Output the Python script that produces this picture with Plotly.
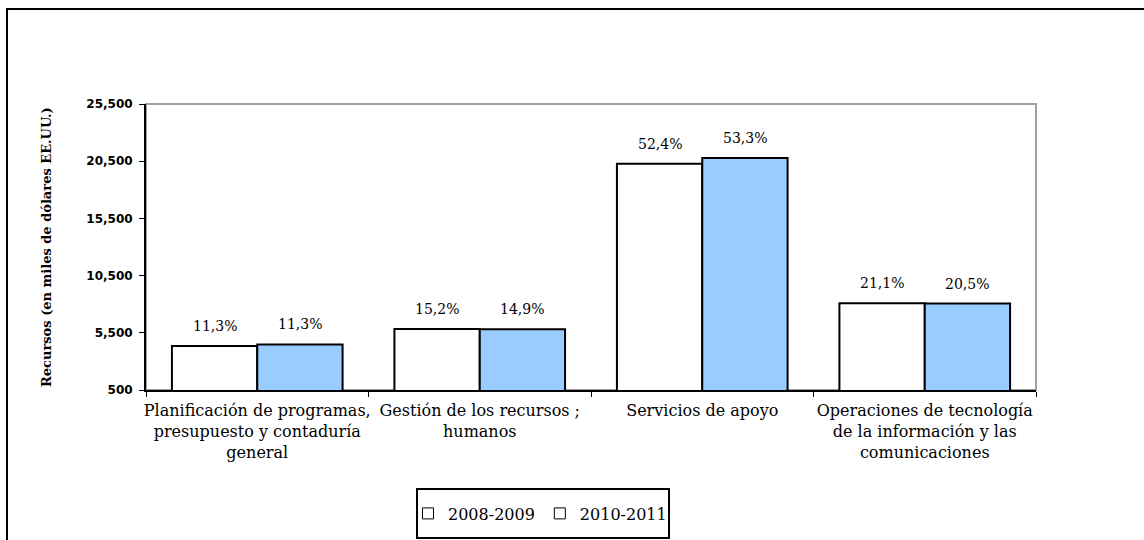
import plotly.graph_objects as go

categories = [
    "Planificación de programas,<br>presupuesto y contaduría<br>general",
    "Gestión de los recursos ;<br>humanos",
    "Servicios de apoyo",
    "Operaciones de tecnología<br>de la información y las<br>comunicaciones",
]
series_names = ["2008-2009", "2010-2011"]
values_2008_2009 = [4350, 5840, 20270, 8080]
values_2010_2011 = [4480, 5810, 20770, 8060]
labels_2008_2009 = ["11,3%", "15,2%", "52,4%", "21,1%"]
labels_2010_2011 = ["11,3%", "14,9%", "53,3%", "20,5%"]
y_ticks = [500, 5500, 10500, 15500, 20500, 25500]
y_title = "Recursos (en miles de dólares EE.UU.)"

W, H = 1144, 540
ML, MR, MT, MB = 146, 108, 104, 150
BARGAP = 0.233

serif = "DejaVu Serif"
colors = ["#FFFFFF", "#99CCFF"]

plot_w = W - ML - MR
plot_h = H - MT - MB


def px_x(px):
    return (px - ML) / plot_w


def px_y(py):
    return ((H - MB) - py) / plot_h


fig = go.Figure()
for name, vals, col in [
    (series_names[0], values_2008_2009, colors[0]),
    (series_names[1], values_2010_2011, colors[1]),
]:
    fig.add_trace(go.Bar(
        x=categories, y=vals, name=name, showlegend=False,
        marker=dict(color=col, line=dict(color="#000000", width=2)),
        hoverinfo="skip",
    ))

# legend entries (hollow squares as in the original)
for name in series_names:
    fig.add_trace(go.Scatter(
        x=[None], y=[None], mode="markers", name=name,
        marker=dict(symbol="square-open", size=11, color="#000000",
                    line=dict(width=1)),
    ))

# data labels above bars
cat_w = plot_w / len(categories)
bar_w = cat_w * (1 - BARGAP) / 2
for labels, sign, vals in [
    (labels_2008_2009, -1, values_2008_2009),
    (labels_2010_2011, 1, values_2010_2011),
]:
    for c, v, t in zip(categories, vals, labels):
        fig.add_annotation(
            x=c, y=v, xref="x", yref="y", text=t, showarrow=False,
            xshift=sign * bar_w / 2, yshift=20,
            font=dict(family=serif, size=14, color="#000000"),
        )

# y-axis title
fig.add_annotation(
    x=px_x(46), y=0.5, xref="paper", yref="paper", text="<b>" + y_title + "</b>",
    textangle=-90, showarrow=False, xanchor="center", yanchor="middle",
    font=dict(family=serif, size=13, color="#000000"),
)

# plot-area border (gray top/right)
fig.add_shape(type="rect", xref="paper", yref="paper", x0=0, x1=1, y0=0, y1=1,
              line=dict(color="#A0A0A0", width=2), layer="below")
# outer frame
fig.add_shape(type="rect", xref="paper", yref="paper",
              x0=px_x(7), x1=px_x(W + 10), y0=px_y(H + 10), y1=px_y(9),
              line=dict(color="#000000", width=2), layer="below")
# legend box
fig.add_shape(type="rect", xref="paper", yref="paper",
              x0=px_x(417), x1=px_x(669), y0=px_y(538), y1=px_y(489),
              line=dict(color="#000000", width=2), fillcolor="#FFFFFF",
              layer="below")

fig.update_layout(
    template="none",
    width=W, height=H,
    margin=dict(l=ML, r=MR, t=MT, b=MB, autoexpand=False),
    paper_bgcolor="#FFFFFF", plot_bgcolor="#FFFFFF",
    barmode="group", bargap=BARGAP, bargroupgap=0,
    font=dict(family=serif, color="#000000"),
    showlegend=True,
    legend=dict(
        orientation="h", x=540 / W, xref="container", xanchor="center",
        y=px_y(513.5), yanchor="middle",
        borderwidth=0, bgcolor="rgba(0,0,0,0)",
        font=dict(family=serif, size=16, color="#000000"),
    ),
    xaxis=dict(
        automargin=False,
        showline=True, linecolor="#000000", linewidth=2,
        ticks="outside", ticklen=5, tickwidth=1, tickcolor="#000000",
        tickson="boundaries", showgrid=False, tickangle=0,
        ticklabelstandoff=5,
        tickfont=dict(family=serif, size=16, color="#000000"),
    ),
    yaxis=dict(
        automargin=False,
        range=[500, 25500], tickvals=y_ticks, tickformat=",",
        showline=True, linecolor="#000000", linewidth=2,
        ticks="outside", ticklen=5, tickwidth=1, tickcolor="#000000",
        showgrid=False, zeroline=False, ticklabelstandoff=4,
        tickfont=dict(family="DejaVu Sans", size=12, color="#000000",
                      weight="bold"),
    ),
)

fig.write_html("out.html", config={"displayModeBar": False},
               post_script="document.body.style.margin='0';")
